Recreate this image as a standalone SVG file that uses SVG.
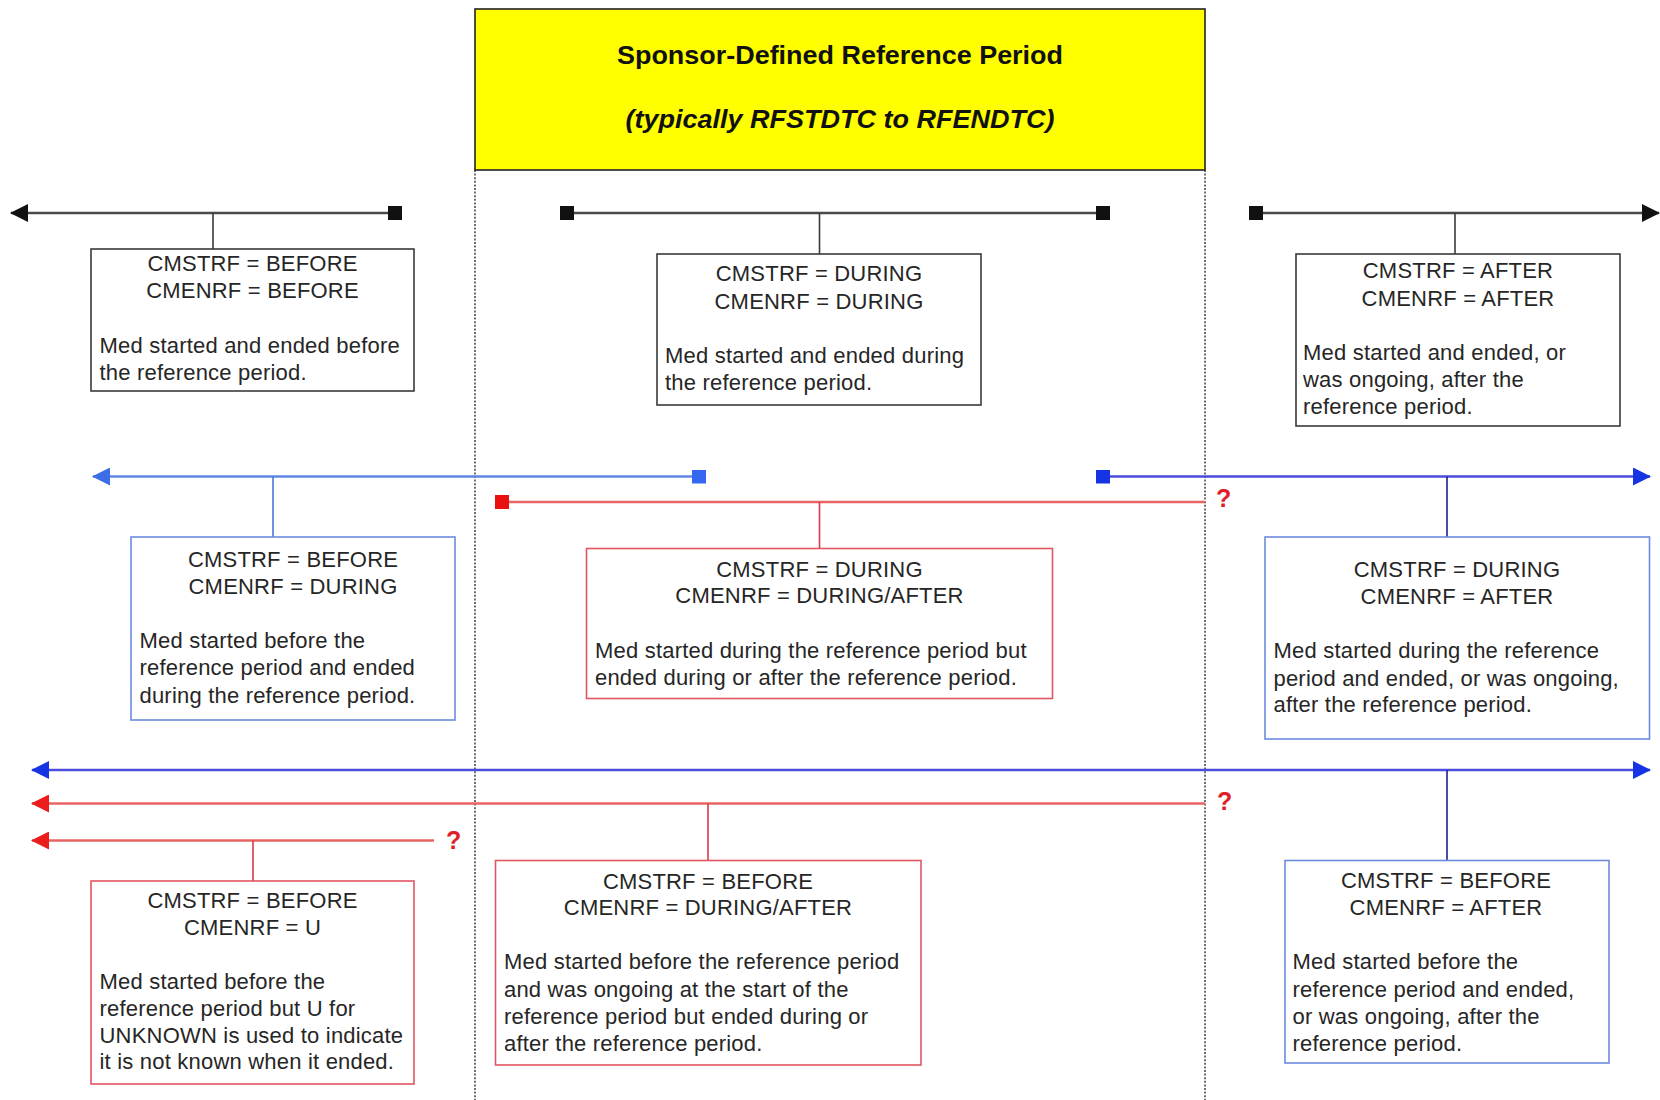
<svg xmlns="http://www.w3.org/2000/svg" width="1660" height="1100" viewBox="0 0 1660 1100">
<style>
text{font-family:"Liberation Sans",Arial,sans-serif;fill:#262626;font-size:22px;letter-spacing:0.2px}
.h{text-anchor:middle}
.title{font-weight:bold;font-size:26px;fill:#111;text-anchor:middle;letter-spacing:0}
.sub{font-weight:bold;font-style:italic;font-size:26px;fill:#111;text-anchor:middle;letter-spacing:0}
.q{font-weight:bold;font-size:25px;fill:#e01e2a}
.box{fill:#fff;stroke-width:1.6}
.kb{stroke:#3a3a3a}
.rb{stroke:#e25662}
.bb{stroke:#6d8ae0}
.ln{fill:none;stroke-width:2.4}
.k{stroke:#4a4a4a}
.lb{stroke:#5f86e6}
.db{stroke:#4c4cdc}
.rl{stroke:#e86464}
.c{fill:none;stroke-width:1.6}
.ck{stroke:#3a3a3a}
.clb{stroke:#4d74d8}
.cdb{stroke:#1e1e96}
.cr{stroke:#d83a48}
.dash{fill:none;stroke:#222;stroke-width:1.3;stroke-dasharray:2 1.6}
</style>
<defs>
<marker id="aK" markerUnits="userSpaceOnUse" markerWidth="18" markerHeight="18" viewBox="0 0 18 18" refX="17" refY="9" orient="auto-start-reverse"><path d="M0,0 L18,9 L0,18 z" fill="#111"/></marker>
<marker id="sK" markerUnits="userSpaceOnUse" markerWidth="14" markerHeight="14" viewBox="0 0 14 14" refX="7" refY="7" orient="auto"><rect width="14" height="14" fill="#111"/></marker>
<marker id="aLB" markerUnits="userSpaceOnUse" markerWidth="18" markerHeight="18" viewBox="0 0 18 18" refX="17" refY="9" orient="auto-start-reverse"><path d="M0,0 L18,9 L0,18 z" fill="#3d6ee8"/></marker>
<marker id="sLB" markerUnits="userSpaceOnUse" markerWidth="14" markerHeight="14" viewBox="0 0 14 14" refX="7" refY="7" orient="auto"><rect width="14" height="14" fill="#3468f0"/></marker>
<marker id="aDB" markerUnits="userSpaceOnUse" markerWidth="18" markerHeight="18" viewBox="0 0 18 18" refX="17" refY="9" orient="auto-start-reverse"><path d="M0,0 L18,9 L0,18 z" fill="#1634e4"/></marker>
<marker id="sDB" markerUnits="userSpaceOnUse" markerWidth="14" markerHeight="14" viewBox="0 0 14 14" refX="7" refY="7" orient="auto"><rect width="14" height="14" fill="#1634e4"/></marker>
<marker id="aR" markerUnits="userSpaceOnUse" markerWidth="18" markerHeight="18" viewBox="0 0 18 18" refX="17" refY="9" orient="auto-start-reverse"><path d="M0,0 L18,9 L0,18 z" fill="#ea1c1c"/></marker>
<marker id="sR" markerUnits="userSpaceOnUse" markerWidth="14" markerHeight="14" viewBox="0 0 14 14" refX="7" refY="7" orient="auto"><rect width="14" height="14" fill="#ea1010"/></marker>
</defs>
<rect width="1660" height="1100" fill="#fff"/>

<g id="reference-period">
<rect x="475" y="9" width="730" height="161" fill="#ffff00" stroke="#222" stroke-width="1.6"/>
<text class="title" x="840" y="64" textLength="446" lengthAdjust="spacingAndGlyphs">Sponsor-Defined Reference Period</text>
<text class="sub" x="840" y="128" textLength="429" lengthAdjust="spacingAndGlyphs">(typically RFSTDTC to RFENDTC)</text>
</g>

<g id="period-bounds">
<line class="dash" x1="475" y1="170" x2="475" y2="1100"/>
<line class="dash" x1="1205" y1="170" x2="1205" y2="1100"/>
</g>

<g id="connectors">
<path class="ln k" d="M395,213 H11" marker-start="url(#sK)" marker-end="url(#aK)"/>
<path class="ln k" d="M567,213 H1103" marker-start="url(#sK)" marker-end="url(#sK)"/>
<path class="ln k" d="M1256,213 H1659" marker-start="url(#sK)" marker-end="url(#aK)"/>
<path class="ln lb" d="M699,476.5 H93" marker-start="url(#sLB)" marker-end="url(#aLB)"/>
<path class="ln db" d="M1103,476.5 H1650" marker-start="url(#sDB)" marker-end="url(#aDB)"/>
<path class="ln rl" d="M502,502 H1205" marker-start="url(#sR)"/>
<path class="ln db" d="M32,770 H1650" marker-start="url(#aDB)" marker-end="url(#aDB)"/>
<path class="ln rl" d="M1205,803.5 H32" marker-end="url(#aR)"/>
<path class="ln rl" d="M434,840.5 H32" marker-end="url(#aR)"/>
<line class="c ck" x1="213" y1="213" x2="213" y2="249"/>
<line class="c ck" x1="819.5" y1="213" x2="819.5" y2="254"/>
<line class="c ck" x1="1455" y1="213" x2="1455" y2="254"/>
<line class="c clb" x1="273" y1="476.5" x2="273" y2="537"/>
<line class="c cr" x1="819.5" y1="502" x2="819.5" y2="548.5"/>
<line class="c cdb" x1="1447" y1="476.5" x2="1447" y2="537"/>
<line class="c cdb" x1="1447" y1="770" x2="1447" y2="860.5"/>
<line class="c cr" x1="708" y1="803.5" x2="708" y2="860.5"/>
<line class="c cr" x1="253" y1="840.5" x2="253" y2="881"/>
<text class="q" x="1216" y="507">?</text>
<text class="q" x="1217" y="810">?</text>
<text class="q" x="446" y="849">?</text>
</g>

<g id="before-before">
<rect class="box kb" x="91" y="249" width="323" height="142"/>
<text class="h" x="252.5" y="270.5">CMSTRF = BEFORE</text>
<text class="h" x="252.5" y="298">CMENRF = BEFORE</text>
<text x="99.5" y="353">Med started and ended before</text>
<text x="99.5" y="380">the reference period.</text>
</g>

<g id="during-during">
<rect class="box kb" x="657" y="254" width="324" height="151"/>
<text class="h" x="819" y="281">CMSTRF = DURING</text>
<text class="h" x="819" y="308.5">CMENRF = DURING</text>
<text x="665" y="363">Med started and ended during</text>
<text x="665" y="390">the reference period.</text>
</g>

<g id="after-after">
<rect class="box kb" x="1296" y="254" width="324" height="172"/>
<text class="h" x="1458" y="278">CMSTRF = AFTER</text>
<text class="h" x="1458" y="305.5">CMENRF = AFTER</text>
<text x="1303" y="359.5">Med started and ended, or</text>
<text x="1303" y="386.5">was ongoing, after the</text>
<text x="1303" y="413.5">reference period.</text>
</g>

<g id="before-during">
<rect class="box bb" x="131" y="537" width="324" height="183"/>
<text class="h" x="293" y="567">CMSTRF = BEFORE</text>
<text class="h" x="293" y="593.5">CMENRF = DURING</text>
<text x="139.5" y="647.5">Med started before the</text>
<text x="139.5" y="675">reference period and ended</text>
<text x="139.5" y="702.5">during the reference period.</text>
</g>

<g id="during-duringafter">
<rect class="box rb" x="586.5" y="548.5" width="466" height="150"/>
<text class="h" x="819.5" y="576.5">CMSTRF = DURING</text>
<text class="h" x="819.5" y="603">CMENRF = DURING/AFTER</text>
<text x="595" y="658">Med started during the reference period but</text>
<text x="595" y="684.5">ended during or after the reference period.</text>
</g>

<g id="during-after">
<rect class="box bb" x="1265" y="537" width="384.5" height="202"/>
<text class="h" x="1457" y="576.5">CMSTRF = DURING</text>
<text class="h" x="1457" y="604">CMENRF = AFTER</text>
<text x="1273.5" y="658">Med started during the reference</text>
<text x="1273.5" y="685.5">period and ended, or was ongoing,</text>
<text x="1273.5" y="712">after the reference period.</text>
</g>

<g id="before-unknown">
<rect class="box rb" x="91" y="881" width="323" height="203"/>
<text class="h" x="252.5" y="908">CMSTRF = BEFORE</text>
<text class="h" x="252.5" y="934.5">CMENRF = U</text>
<text x="99.5" y="989">Med started before the</text>
<text x="99.5" y="1016">reference period but U for</text>
<text x="99.5" y="1042.5">UNKNOWN is used to indicate</text>
<text x="99.5" y="1069">it is not known when it ended.</text>
</g>

<g id="before-duringafter">
<rect class="box rb" x="495.5" y="860.5" width="425.5" height="204.5"/>
<text class="h" x="708" y="889">CMSTRF = BEFORE</text>
<text class="h" x="708" y="915">CMENRF = DURING/AFTER</text>
<text x="504" y="969">Med started before the reference period</text>
<text x="504" y="997">and was ongoing at the start of the</text>
<text x="504" y="1024">reference period but ended during or</text>
<text x="504" y="1051">after the reference period.</text>
</g>

<g id="before-after">
<rect class="box bb" x="1285" y="860.5" width="324" height="202.5"/>
<text class="h" x="1446" y="888">CMSTRF = BEFORE</text>
<text class="h" x="1446" y="915">CMENRF = AFTER</text>
<text x="1292.5" y="969">Med started before the</text>
<text x="1292.5" y="997">reference period and ended,</text>
<text x="1292.5" y="1024">or was ongoing, after the</text>
<text x="1292.5" y="1051">reference period.</text>
</g>
</svg>
